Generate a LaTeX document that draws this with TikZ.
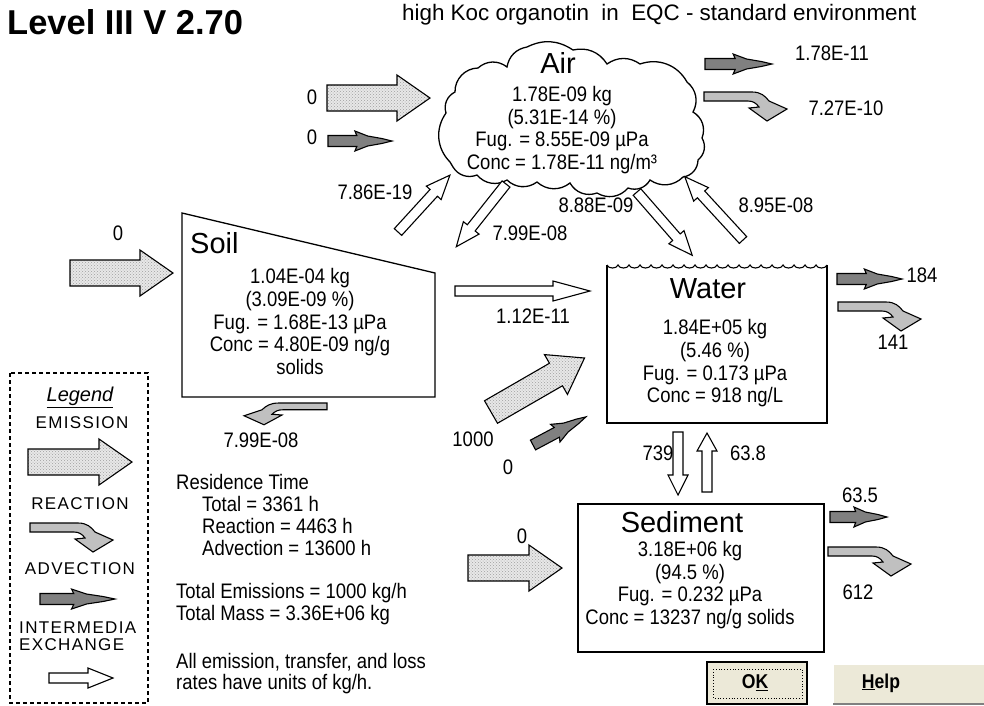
\documentclass[tikz,border=0pt]{standalone}
\usepackage{fontspec}
\setmainfont{Liberation Sans}
\newfontfamily\nar{Liberation Sans}[FakeStretch=0.88]
\usetikzlibrary{patterns}
\definecolor{reacgray}{RGB}{192,192,192}
\definecolor{advgray}{RGB}{128,128,128}
\definecolor{btn}{RGB}{236,233,216}
\tikzset{
 val/.style={font=\nar\fontsize{21}{22.7}\selectfont, align=center, inner sep=0pt},
 lbl/.style={font=\nar\fontsize{21}{22.7}\selectfont, inner sep=0pt},
 ttl/.style={font=\fontsize{29}{30}\selectfont, inner sep=0pt},
 leg/.style={font=\fontsize{17}{18}\selectfont\addfontfeature{LetterSpace=8}, inner sep=0pt},
 emis/.style={draw=black, line width=1.1pt, preaction={fill=gray!18}, pattern=crosshatch dots, pattern color=gray!75},
 reac/.style={draw=black, line width=1.1pt, fill=reacgray},
 adv/.style={draw=black, line width=1.1pt, fill=advgray},
 xchs/.style={draw=black, line width=1.1pt, fill=white},
 boxline/.style={draw=black, line width=1.3pt},
 pics/emission/.style={code={\path[emis] (0,-13) -- ({#1-33},-13) -- ({#1-33},-23) -- (#1,0) -- ({#1-33},23) -- ({#1-33},13) -- (0,13) -- cycle;}},
 pics/advection/.style={code={\path[adv] (0,-5.5) -- ({0.45*#1},-5.5) -- ({0.42*#1},-10) -- ({0.62*#1},-5) -- ({0.84*#1},-2.5) -- (#1,0) -- ({0.84*#1},2.5) -- ({0.62*#1},5) -- ({0.42*#1},10) -- ({0.45*#1},5.5) -- (0,5.5) -- cycle;}},
 pics/reaction/.style={code={\path[reac] (0,0) -- (48,0) .. controls (57,0) and (61,4) .. (65,9) -- (83,17) -- (63,29) -- (45,16) -- (55,15) .. controls (52,11) and (49,9) .. (44,9) -- (0,9) -- cycle;}},
 pics/xch/.style 2 args={code={\path[xchs] (0,-5) -- ({#1-#2},-5) -- ({#1-#2},-10) -- (#1,0) -- ({#1-#2},10) -- ({#1-#2},5) -- (0,5) -- cycle;}},
}
\begin{document}
\begin{tikzpicture}[x=1pt,y=-1pt]
\useasboundingbox[fill=white] (0,0) rectangle (984,705);

% titles
\node[anchor=west, font=\bfseries\fontsize{34.5}{36}\selectfont, inner sep=0pt] (title) at (7,22) {Level III V 2.70};
\node[anchor=west, font=\fontsize{22.4}{24}\selectfont, inner sep=0pt] (subtitle) at (402,15) {high Koc organotin\ \ in\ \ EQC - standard environment};

% Air cloud
\draw[boxline] (450,162) to[bend left=40] (446,113) to[bend left=40] (455,92) to[bend left=45] (478,68) to[bend left=40] (507,67) to[bend left=35] (527,47) to[bend left=30] (573,50) to[bend left=35] (607,64) to[bend left=35] (640,64) to[bend left=40] (687,82) to[bend left=40] (693,112) to[bend left=40] (702,138) to[bend left=40] (698,160) to[bend left=40] (683,177) to[bend left=40] (650,180) to[bend left=40] (628,188) to[bend left=40] (597,193) to[bend left=40] (570,183) to[bend left=40] (537,182) to[bend left=40] (507,180) to[bend left=40] (477,175) to[bend left=40] (453,167) -- cycle;
\node[ttl] (airT) at (558,63) {Air};
\node[val] (air) at (562,130) {1.78E-09 kg\\(5.31E-14 \%)\\Fug. = 8.55E-09 µPa\\Conc = 1.78E-11 ng/m³};

% Soil
\draw[boxline] (182,213) -- (435,273) -- (435,397) -- (182,397) -- cycle;
\node[ttl, anchor=west] (soilT) at (190,243) {Soil};
\node[val] (soil) at (300,321.5) {1.04E-04 kg\\(3.09E-09 \%)\\Fug. = 1.68E-13 µPa\\Conc = 4.80E-09 ng/g\\solids};

% Water
\draw[boxline] (607,265) -- (607,423) -- (827,423) -- (827,265);
\draw[line width=1.1pt] (607,265) foreach \i in {1,...,20} { to[bend right=70] ++(11,0) };
\node[ttl] (waterT) at (708,289) {Water};
\node[val] (water) at (715,363.5) {1.84E+05 kg\\(5.46 \%)\\Fug. = 0.173 µPa\\Conc = 918 ng/L};

% Sediment
\draw[boxline] (578,504) rectangle (824,652);
\node[ttl] (sedT) at (682,522) {Sediment};
\node[val] (sed) at (690,585) {3.18E+06 kg\\(94.5 \%)\\Fug. = 0.232 µPa\\Conc = 13237 ng/g solids};

% emission arrows
\pic at (327,98) {emission=103};
\pic at (70,273) {emission=103};
\pic[rotate=30] at (491,412) {emission=108};
\pic at (468,568) {emission=94};
\pic at (28,462) {emission=104};

% advection arrows
\pic at (705,64) {advection=67};
\pic at (328,141) {advection=64};
\pic at (837,279) {advection=65};
\pic[rotate=28] at (533,445) {advection=60};
\pic at (830,517) {advection=57};
\pic at (40,599) {advection=75};

% reaction arrows
\pic at (704,92) {reaction};
\pic at (838,302) {reaction};
\pic at (828,547) {reaction};
\pic at (30,523) {reaction};
\pic[xscale=-1,yscale=0.75] at (327,403) {reaction};

% intermedia exchange arrows
\pic at (455,291) {xch={135}{37}};
\pic at (49,678) {xch={64}{25}};
\pic[rotate=47.6] at (398,232) {xch={77}{24}};
\pic[rotate=231.6] at (506,184) {xch={80}{24}};
\pic[rotate=-48.9] at (637,192) {xch={84}{24}};
\pic[rotate=132.6] at (743,240) {xch={86}{24}};
\pic[rotate=-90] at (678,432) {xch={63}{20}};
\pic[rotate=90] at (707,492) {xch={59}{18}};

% flow labels
\node[lbl] (l1) at (312,97) {0};
\node[lbl] (l2) at (312,137) {0};
\node[lbl] (l3) at (832,53) {1.78E-11};
\node[lbl] (l4) at (846,108) {7.27E-10};
\node[lbl] (l5) at (375,192) {7.86E-19};
\node[lbl] (l6) at (530,233) {7.99E-08};
\node[lbl] (l7) at (596,205) {8.88E-09};
\node[lbl] (l8) at (776,205) {8.95E-08};
\node[lbl] (l9) at (118,233) {0};
\node[lbl] (l10) at (533,316) {1.12E-11};
\node[lbl] (l11) at (261,440) {7.99E-08};
\node[lbl] (l12) at (473,439) {1000};
\node[lbl] (l13) at (508,467) {0};
\node[lbl] (l14) at (658,453) {739};
\node[lbl] (l15) at (748,453) {63.8};
\node[lbl] (l16) at (522,536) {0};
\node[lbl] (l17) at (922,275) {184};
\node[lbl] (l18) at (893,342) {141};
\node[lbl] (l19) at (860,495) {63.5};
\node[lbl] (l20) at (858,592) {612};

% summary text
\node[lbl, anchor=west] (rt) at (176,482) {Residence Time};
\node[lbl, anchor=west] (rt1) at (202,504) {Total = 3361 h};
\node[lbl, anchor=west] (rt2) at (202,526) {Reaction = 4463 h};
\node[lbl, anchor=west] (rt3) at (202,548) {Advection = 13600 h};
\node[lbl, anchor=west] (te) at (176,593) {Total Emissions = 1000 kg/h};
\node[lbl, anchor=west] (tm) at (176,615) {Total Mass = 3.36E+06 kg};
\node[lbl, anchor=west] (n1) at (176,662) {All emission, transfer, and loss};
\node[lbl, anchor=west] (n2) at (176,684) {rates have units of kg/h.};

% legend
\draw[line width=1.1pt, dash pattern=on 4pt off 3pt] (10,373) rectangle (148,703);
\node[font=\itshape\fontsize{20}{22}\selectfont, inner sep=0pt] (legT) at (80,397) {\underline{Legend}};
\node[leg] (legE) at (82,423) {EMISSION};
\node[leg] (legR) at (80,504) {REACTION};
\node[leg] (legA) at (80,569) {ADVECTION};
\node[leg, anchor=west] (legI) at (19,628) {INTERMEDIA};
\node[leg, anchor=west] (legX) at (19,645) {EXCHANGE};

% buttons
\path[fill=btn, draw=black, line width=1.6pt] (707,662) rectangle (807,704);
\draw[line width=0.8pt, dotted] (713,669) rectangle (802,698);
\node[font=\nar\bfseries\fontsize{20}{22}\selectfont, inner sep=0pt] (ok) at (755,683) {O\underline{K}};
\path[fill=btn] (833,664) rectangle (984,705);
\draw[white, line width=1pt] (833.5,704) -- (833.5,664.5) -- (984,664.5);
\draw[gray, line width=2pt] (833,704) -- (984,704);
\node[font=\nar\bfseries\fontsize{20}{22}\selectfont, inner sep=0pt] (help) at (881,683) {\underline{H}elp};
\end{tikzpicture}
\end{document}
